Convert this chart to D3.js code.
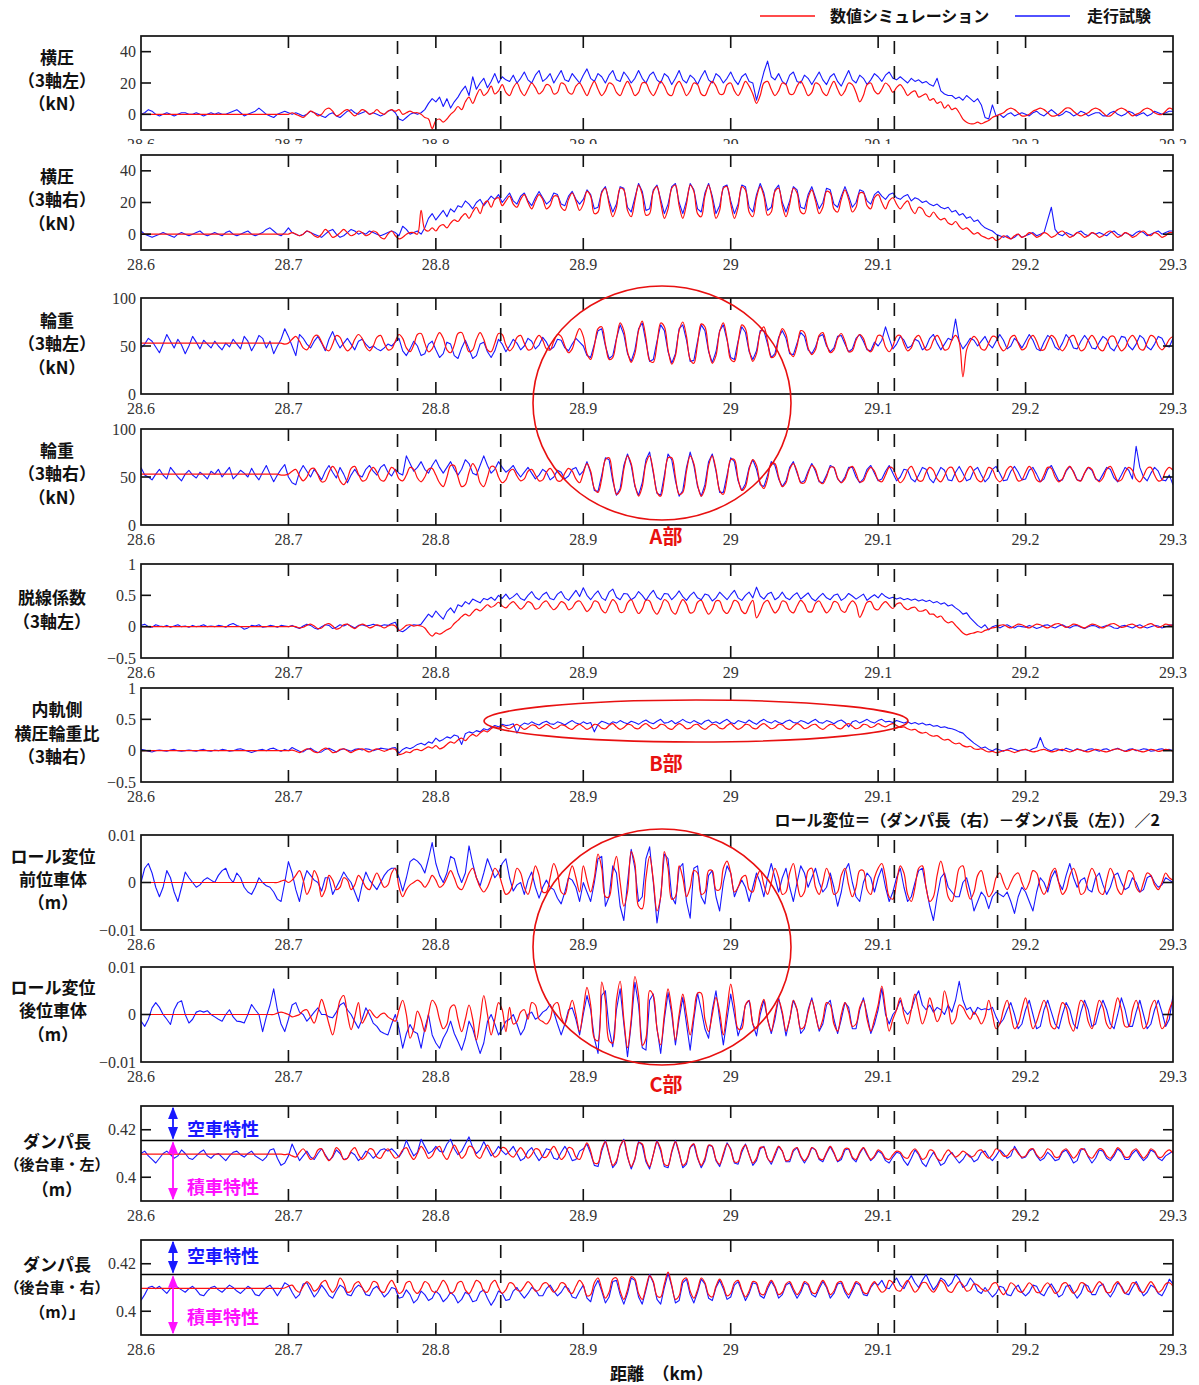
<!DOCTYPE html>
<html>
<head>
<meta charset="utf-8">
<script src="https://cdn.jsdelivr.net/npm/d3@7"></script>
<style>
  body { margin: 0; background: #fff; }
  svg { display: block; }
</style>
</head>
<body>
<svg id="chart" width="1199" height="1385"></svg>
<script>
// ---- distance axis (km) ----
const startKm = 28.6;
const stepKm = 0.0025;            // one sample every 2.5 m
const xTickValues = [28.6, 28.7, 28.8, 28.9, 29.0, 29.1, 29.2, 29.3];
const xTickLabels = ["28.6", "28.7", "28.8", "28.9", "29", "29.1", "29.2", "29.3"];
const sectionKm = [28.774, 28.844, 29.111, 29.181];
const seriesNames = ["数値シミュレーション", "走行試験"];

// ---- 横圧 3軸左 (kN) ----
const lfLeftSim = [
0,0,0,0,0,0,0,0,0,0,0,0,0,0,0,0,0,0,0,0,
0,0,0,0,0,0,0,0,0,0,0,0,0,0,0,0,0,0,0,0,
0,1,0,-1,-2,0,2,1,-1,0,3,4,2,-1,0,2,3,1,-1,1,
3,2,0,1,3,1,0,2,3,2,3,0,1,2,1,1,0,-2,-3,-9,
-4,-3,-5,-3,0,2,5,3,8,11,7,12,16,12,14,18,13,15,19,14,
12,17,20,15,12,16,20,17,13,15,19,18,13,14,20,19,14,13,18,20,
16,12,17,21,16,12,15,20,19,14,12,17,21,17,12,14,20,20,15,12,
16,21,18,13,12,18,21,17,12,15,20,19,13,12,17,21,18,13,13,19,
20,15,12,16,21,18,13,7,12,20,21,16,12,15,20,19,13,13,18,21,
17,12,14,20,19,14,12,17,21,16,12,15,20,19,14,8,12,19,20,15,
13,16,20,18,14,17,19,16,12,14,15,11,12,13,9,10,7,8,4,6,
3,4,1,-3,-5,-6,-6,-5,-6,-5,-4,-2,-1,0,1,3,4,3,1,-1,
-1,0,2,3,4,3,1,-1,-1,0,2,4,4,2,0,-1,0,1,3,4,
3,1,-1,-1,1,3,4,3,1,-1,0,1,3,4,3,1,0,0,2,4,
3];
const lfLeftTest = [
0,1,3,2,0,-1,0,1,0,-1,0,1,1,0,0,1,0,-1,0,1,
0,1,0,0,1,2,3,1,-1,0,1,2,4,2,0,-1,-2,0,1,2,
1,0,1,0,-1,0,2,1,0,-1,-2,0,1,-1,-2,0,2,3,1,0,
1,2,0,1,0,-1,0,2,3,1,-3,-4,-2,0,1,0,1,3,7,10,
8,11,5,10,4,8,11,15,18,12,24,16,20,23,17,21,26,20,24,22,
21,25,20,23,27,22,20,25,28,21,23,26,20,24,28,22,21,26,23,20,
25,29,23,21,26,24,20,25,28,22,21,27,24,20,23,28,23,20,25,27,
22,20,26,24,19,23,28,22,20,25,23,19,24,28,22,20,26,24,20,23,
27,22,19,24,26,21,20,9,18,27,34,24,22,26,21,19,25,27,21,20,
25,23,19,23,27,22,19,24,26,21,18,23,28,22,20,25,23,19,22,26,
24,21,25,27,23,22,24,22,20,23,21,22,20,21,19,18,23,15,13,12,
12,10,11,9,12,10,8,10,6,-2,-3,6,-1,0,-2,0,1,-1,0,1,
0,-1,1,2,0,-1,1,3,1,-1,0,2,1,-1,0,2,1,-1,0,1,
1,-1,-1,1,2,0,-1,0,2,1,-1,0,1,-1,0,2,1,0,1,2,
2];

// ---- 横圧 3軸右 (kN) ----
const lfRightSim = [
0,0,0,0,0,0,0,0,0,0,0,0,0,0,0,0,0,0,0,0,
0,0,0,0,0,0,0,0,0,0,0,0,0,0,0,0,0,0,0,0,
0,1,0,-1,0,2,1,-1,-2,0,3,1,-2,-1,1,3,1,-1,0,2,
1,-1,0,2,1,-2,-3,0,2,-1,-3,-2,0,1,1,0,15,3,2,4,
2,5,6,4,7,9,8,11,13,10,14,17,13,19,21,17,22,23,18,21,
24,19,17,22,25,20,16,21,25,22,16,18,24,24,17,15,22,26,21,15,
19,27,24,13,14,26,29,19,11,17,29,28,15,11,21,31,25,12,13,27,
30,20,10,16,29,31,18,10,19,31,27,13,11,24,31,22,10,15,29,30,
19,10,17,30,28,14,11,23,30,24,12,14,27,29,18,11,19,29,26,14,
13,23,28,21,13,17,27,26,16,14,22,28,22,14,17,26,26,18,16,23,
25,20,16,21,23,19,16,19,21,16,13,17,16,12,11,14,11,9,10,7,
6,8,5,3,4,2,0,1,-1,-2,-3,-2,-4,-3,-1,-2,-3,-1,0,-2,
-1,1,0,-2,-1,1,0,-2,-1,1,2,0,-2,-1,1,0,-2,-1,1,0,
-2,-1,1,2,0,-2,-1,1,0,-2,-1,1,2,0,-1,1,0,-2,-1,1,
1];
const lfRightTest = [
2,0,-1,-2,-1,0,1,0,-1,-2,0,1,0,-1,0,1,2,0,-1,0,
1,0,-1,1,2,0,-1,0,1,2,0,-1,0,1,3,4,2,0,-1,1,
4,1,0,-1,0,2,1,0,-1,-2,0,2,3,0,-2,-1,1,3,2,0,
1,0,2,1,0,-1,0,1,2,1,-1,5,3,0,1,2,0,4,10,13,
9,12,15,11,16,14,18,17,21,19,16,20,22,18,21,24,22,25,20,23,
26,21,19,24,26,21,18,23,27,23,19,21,26,25,19,18,24,27,22,19,
22,28,25,16,17,27,30,21,14,19,30,29,17,14,23,32,27,15,16,28,
31,22,13,19,30,32,20,13,21,32,28,16,14,26,32,24,13,18,30,31,
21,13,19,31,30,17,14,25,32,26,15,17,28,31,20,14,21,30,28,17,
16,25,30,23,16,20,29,28,19,17,24,30,24,17,20,28,27,21,19,25,
27,24,22,25,26,23,22,24,25,21,23,22,20,21,19,18,19,17,16,17,
14,15,12,13,10,11,8,9,6,4,3,2,0,-1,-2,-1,-3,-2,0,-2,
-1,0,1,-1,0,1,9,17,3,0,-1,1,0,-1,1,2,0,-1,1,0,
1,0,-1,1,2,0,-1,1,0,-1,1,2,1,-1,0,1,2,0,1,2,
2];

// ---- 輪重 3軸左 (kN) ----
const wlLeftSim = [
53,53,53,53,53,53,53,53,53,53,53,53,53,53,53,53,53,53,53,53,
53,53,53,53,53,53,53,53,53,53,53,53,53,53,53,53,53,53,53,52,
53,57,60,55,48,46,52,60,61,54,47,45,52,61,59,50,45,48,57,62,
58,49,45,50,59,61,53,46,47,55,62,58,48,44,51,62,63,53,44,47,
57,64,58,46,43,51,63,64,54,44,46,57,64,57,46,44,53,63,62,51,
45,49,59,61,53,46,47,56,61,56,47,46,55,62,60,50,43,47,60,68,
60,42,36,50,68,70,52,36,38,57,74,66,44,33,42,66,76,58,35,33,
52,74,70,46,31,40,66,75,60,36,32,52,73,70,46,32,40,65,74,58,
36,34,53,72,68,46,34,42,64,70,55,38,40,57,68,62,44,39,50,66,
64,48,41,46,61,64,52,43,46,58,63,55,44,45,56,62,58,47,44,51,
61,60,49,44,50,60,61,52,45,48,58,61,54,46,47,56,61,55,46,47,
56,61,54,18,46,55,60,56,47,46,53,60,59,50,45,49,59,61,53,46,
48,57,61,55,46,46,54,61,58,49,45,50,59,61,53,45,47,56,61,56,
47,45,52,60,60,51,45,48,57,61,56,47,46,54,61,59,50,46,50,57,
60];
const wlLeftTest = [
48,52,58,55,49,43,52,62,55,48,57,51,42,50,60,54,47,56,52,48,
55,50,46,53,49,57,52,47,60,55,45,52,61,58,48,55,42,50,57,68,
60,50,40,62,58,52,48,55,60,53,45,57,65,55,48,53,58,52,46,55,
57,52,48,50,47,45,48,52,50,54,58,45,40,47,55,50,40,42,52,55,
46,38,42,54,52,40,37,48,56,47,37,40,52,54,44,38,45,57,52,44,
50,57,53,46,50,58,55,47,51,59,54,46,49,57,56,48,45,52,58,54,
50,40,38,52,66,68,50,37,40,58,72,62,42,34,46,68,74,54,34,36,
55,72,66,44,32,42,68,72,56,34,35,55,72,66,44,33,44,66,72,56,
38,36,55,70,64,44,36,45,66,66,52,38,42,59,66,58,42,41,53,64,
60,46,42,49,60,62,50,44,48,60,61,52,44,47,58,62,55,46,45,54,
50,56,70,58,47,52,60,56,48,50,57,55,46,49,58,62,53,46,52,58,
56,78,55,47,52,58,56,50,55,60,52,48,55,62,56,47,50,58,54,48,
55,62,56,47,45,54,61,58,49,46,53,62,57,48,47,55,61,56,48,47,
54,60,57,48,45,52,60,59,50,46,52,61,58,49,46,52,60,58,50,49,
58];

// ---- 輪重 3軸右 (kN) ----
const wlRightSim = [
53,53,53,53,53,53,53,53,53,53,53,53,53,53,53,53,53,53,53,53,
53,53,53,53,53,53,53,53,53,53,53,53,53,53,53,53,53,53,52,52,
53,56,58,51,46,50,58,59,52,45,46,55,61,56,46,42,48,59,61,53,
46,47,55,60,55,47,46,53,60,57,48,46,52,60,58,49,45,50,58,59,
52,44,40,50,62,62,50,40,42,55,64,58,44,40,50,61,60,50,44,47,
56,58,51,46,48,56,58,52,46,47,55,59,54,46,46,54,59,56,48,44,
54,64,56,38,34,48,68,70,50,32,36,58,72,64,42,30,40,64,72,56,
34,30,48,70,70,50,32,34,56,72,64,42,30,38,62,72,58,36,32,48,
68,68,48,36,40,58,68,62,44,38,48,64,64,50,40,44,58,64,56,44,
44,54,62,58,46,43,50,60,60,49,44,48,58,61,54,45,46,55,60,56,
47,45,52,60,59,50,44,48,57,61,54,46,46,55,60,57,48,45,51,59,
60,52,45,47,56,61,55,47,45,52,60,58,49,45,49,58,61,54,46,47,
55,61,56,47,45,52,60,59,50,45,48,57,61,55,47,46,54,60,58,49,
45,49,58,61,54,46,47,55,60,57,48,45,51,59,60,52,46,47,56,60,
57];
const wlRightTest = [
60,52,50,47,53,58,52,48,60,55,50,46,53,57,52,49,55,52,48,56,
53,58,50,55,60,48,52,57,54,50,59,52,47,55,62,53,45,52,58,63,
50,44,42,55,62,56,50,58,53,47,56,62,55,49,60,53,44,52,58,52,
50,58,62,56,52,60,63,55,51,58,54,52,72,64,56,60,66,58,54,62,
68,60,54,60,66,58,52,58,68,64,54,52,62,72,62,54,58,66,60,55,
58,62,55,50,55,60,54,48,52,58,55,47,50,57,55,48,51,58,60,52,
56,66,54,36,35,52,70,68,46,31,38,62,74,62,40,31,44,68,76,54,
33,31,52,74,68,46,30,36,60,76,62,40,30,42,66,74,56,34,34,52,
70,66,46,36,43,60,68,58,42,40,52,66,62,48,40,46,60,66,54,44,
46,56,64,56,45,44,52,62,60,48,44,50,60,60,50,44,48,58,62,54,
46,48,56,62,54,46,50,58,57,48,45,52,60,58,48,44,52,60,57,47,
46,55,61,54,46,48,57,60,52,45,49,58,61,54,46,47,56,61,55,47,
48,57,60,53,45,48,58,62,54,46,47,56,61,56,47,46,54,60,57,48,
46,53,60,58,49,45,52,60,57,48,82,60,50,46,54,60,56,47,46,52,
42];

// ---- 脱線係数 3軸左 ----
const qpLeftSim = [
0,0,0,0,0,0,0,0,0,0,0,0,0,0,0,0,0,0,0,0,
0,0,0,0,0,0,0,0,0,0,0,0,0,0,0,0,0,0,0,0,
0,0.01,0,-0.02,-0.01,0.02,0.04,0.01,-0.03,-0.02,0.03,0.05,0.01,-0.04,-0.02,0.03,0.04,0,-0.03,0.01,
0.04,0.02,-0.02,0,0.03,0.01,-0.02,0.01,0.03,0.01,-0.06,-0.03,0.02,0.03,0.01,0.02,0.01,-0.02,-0.1,-0.15,
-0.1,-0.12,-0.09,-0.05,-0.02,0.05,0.1,0.16,0.2,0.17,0.23,0.28,0.25,0.3,0.35,0.31,0.34,0.39,0.33,0.3,
0.36,0.4,0.34,0.28,0.33,0.4,0.37,0.28,0.3,0.38,0.41,0.33,0.27,0.32,0.4,0.37,0.27,0.3,0.39,0.41,
0.33,0.24,0.3,0.41,0.39,0.27,0.22,0.33,0.43,0.37,0.23,0.24,0.38,0.43,0.31,0.21,0.28,0.42,0.41,0.27,
0.2,0.3,0.43,0.39,0.25,0.2,0.33,0.43,0.36,0.22,0.24,0.39,0.42,0.3,0.2,0.27,0.41,0.41,0.26,0.21,
0.3,0.42,0.39,0.25,0.21,0.33,0.42,0.14,0.24,0.38,0.42,0.31,0.22,0.28,0.41,0.39,0.26,0.22,0.33,0.42,
0.36,0.24,0.24,0.37,0.41,0.31,0.22,0.28,0.4,0.38,0.26,0.23,0.34,0.41,0.35,0.15,0.26,0.39,0.4,0.29,
0.27,0.35,0.4,0.34,0.29,0.36,0.38,0.31,0.27,0.3,0.31,0.25,0.25,0.27,0.2,0.2,0.15,0.17,0.1,0.06,
0.08,0.02,-0.04,-0.1,-0.13,-0.11,-0.1,-0.08,-0.09,-0.06,-0.04,-0.02,-0.01,0.02,0.03,0,-0.02,0.01,0.04,0.03,
0,-0.02,0.01,0.04,0.03,0,-0.02,0.01,0.04,0.05,0.02,-0.01,0.01,0.04,0.03,0,-0.02,0.01,0.04,0.03,
0,-0.02,0.01,0.04,0.05,0.02,-0.01,0,0.03,0.04,0.01,-0.02,0,0.03,0.05,0.02,-0.01,0.01,0.04,0.03,
0.02];
const qpLeftTest = [
0.02,0.04,0,-0.01,0.03,0.01,0,0.02,-0.01,0.01,0.03,0,0.01,-0.01,0.02,0,0.01,0.03,0,0.01,
0,0.02,0.01,-0.01,0.03,0.05,0.02,0,-0.04,-0.02,0.02,0.01,0.03,-0.01,0,0.02,0.01,-0.01,0.02,0.01,
0,0.02,-0.01,-0.03,0.01,0.04,0.02,-0.02,-0.04,0,0.03,0.02,-0.03,-0.01,0.03,0.01,0.04,0.01,-0.02,0.02,
0.03,0.01,0.02,0.04,0.02,0.01,0.03,0.02,0.05,0.07,-0.06,-0.08,-0.04,0.01,0.03,0.02,0.04,0.12,0.2,0.15,
0.25,0.18,0.12,0.24,0.3,0.22,0.35,0.32,0.4,0.36,0.44,0.41,0.38,0.45,0.43,0.47,0.42,0.5,0.45,0.52,
0.44,0.48,0.53,0.45,0.42,0.5,0.56,0.47,0.43,0.51,0.55,0.45,0.43,0.52,0.56,0.46,0.42,0.5,0.58,0.48,
0.62,0.5,0.43,0.51,0.57,0.46,0.42,0.55,0.6,0.47,0.43,0.53,0.52,0.43,0.47,0.56,0.5,0.42,0.51,0.58,
0.47,0.43,0.53,0.52,0.43,0.49,0.57,0.48,0.42,0.5,0.55,0.46,0.43,0.52,0.5,0.41,0.46,0.55,0.49,0.43,
0.51,0.58,0.46,0.42,0.5,0.55,0.46,0.63,0.49,0.44,0.52,0.55,0.43,0.47,0.55,0.46,0.43,0.5,0.54,0.44,
0.49,0.54,0.45,0.41,0.48,0.53,0.46,0.43,0.5,0.52,0.42,0.46,0.53,0.49,0.44,0.48,0.52,0.42,0.47,0.51,
0.46,0.53,0.48,0.45,0.47,0.44,0.46,0.43,0.45,0.42,0.44,0.41,0.43,0.4,0.42,0.38,0.4,0.36,0.38,0.33,
0.35,0.3,0.26,0.2,0.22,0.14,0.08,0.02,-0.02,0.03,-0.05,0,0.02,-0.02,0.01,0.03,0,-0.02,0.01,0,
-0.01,0.02,0,-0.03,-0.01,0.02,0.03,0,-0.02,0.01,0.03,0,-0.02,0.01,0.02,-0.01,-0.03,0,0.02,0.01,
-0.02,0,0.02,0.01,-0.02,-0.03,0.01,0.02,0,-0.02,0.01,0.03,0,-0.02,0,0.02,0.01,-0.02,0,0.02,
0.03];

// ---- 内軌側横圧輪重比 3軸右 ----
const innerRatioSim = [
0,0,0,0,0,0,0,0,0,0,0,0,0,0,0,0,0,0,0,0,
0,0,0,0,0,0,0,0,0,0,0,0,0,0,0,0,0,0,0,0,
0,0.01,-0.01,-0.03,0,0.03,0.02,-0.02,-0.03,0.01,0.04,0.02,-0.03,-0.02,0.02,0.03,0,-0.03,0,0.02,
0.03,0,-0.02,0.01,0.03,0.01,-0.01,0.01,0.03,0.02,-0.06,-0.05,-0.02,-0.03,0.01,0.02,0,0.03,0.06,0.04,
0.08,0.03,0.05,0.1,0.14,0.12,0.17,0.2,0.16,0.22,0.26,0.23,0.28,0.32,0.3,0.35,0.38,0.36,0.4,0.37,
0.35,0.39,0.42,0.38,0.34,0.37,0.41,0.4,0.35,0.38,0.42,0.39,0.35,0.37,0.41,0.4,0.36,0.34,0.39,0.42,
0.38,0.34,0.37,0.42,0.41,0.36,0.35,0.4,0.43,0.38,0.34,0.37,0.42,0.41,0.36,0.35,0.4,0.43,0.39,0.35,
0.37,0.42,0.41,0.36,0.34,0.39,0.43,0.4,0.35,0.36,0.41,0.42,0.37,0.34,0.38,0.42,0.41,0.36,0.35,0.4,
0.43,0.38,0.34,0.37,0.42,0.41,0.36,0.35,0.4,0.43,0.39,0.35,0.37,0.42,0.41,0.36,0.34,0.39,0.43,0.4,
0.35,0.37,0.41,0.42,0.37,0.34,0.38,0.42,0.41,0.36,0.35,0.4,0.43,0.39,0.35,0.37,0.42,0.41,0.37,0.39,
0.43,0.4,0.38,0.41,0.43,0.4,0.37,0.38,0.35,0.33,0.34,0.3,0.28,0.29,0.25,0.23,0.24,0.2,0.17,0.18,
0.14,0.11,0.12,0.08,0.06,0.07,0.03,0.02,0.03,0,-0.02,-0.01,-0.03,-0.02,0,0.01,-0.01,-0.03,-0.01,0.01,
0.02,0,-0.02,-0.01,0.01,0.02,0,-0.02,-0.01,0.01,0.02,0,-0.02,0,0.02,0.01,-0.01,-0.02,0,0.02,
0.01,-0.01,-0.02,0,0.02,0.03,0.01,-0.01,0,0.02,0.01,-0.01,-0.02,0,0.02,0.01,-0.01,0,0.02,0.01,
-0.01];
const innerRatioTest = [
0.02,0.01,-0.01,-0.02,0,0.01,0,-0.01,0.01,0.02,0,-0.01,0,0.01,0,-0.01,0.01,0.02,0,-0.01,
0.01,0,0.02,0.01,-0.01,0,0.02,0.03,0.01,-0.01,-0.03,-0.01,0.01,0.02,0,0.03,0.04,0.01,-0.01,0.02,
0,0.05,0.02,-0.01,-0.02,0.02,0.04,0,-0.03,-0.02,0.02,0.04,0.01,-0.02,0.01,0.03,0.01,-0.01,0.02,0.03,
0.01,0.03,0.02,0,0.02,0.04,0.03,0.02,0.04,0.05,-0.04,0.02,0.05,0.03,0.06,0.1,0.12,0.09,0.14,0.12,
0.2,0.15,0.18,0.22,0.2,0.25,0.23,0.1,0.27,0.3,0.28,0.32,0.3,0.35,0.33,0.37,0.4,0.38,0.42,0.4,
0.41,0.43,0.28,0.4,0.44,0.42,0.46,0.43,0.41,0.45,0.47,0.43,0.42,0.46,0.44,0.41,0.45,0.48,0.44,0.42,
0.46,0.43,0.45,0.3,0.42,0.47,0.45,0.42,0.46,0.44,0.48,0.45,0.43,0.47,0.45,0.42,0.46,0.49,0.45,0.43,
0.47,0.5,0.44,0.45,0.48,0.43,0.46,0.5,0.46,0.44,0.48,0.45,0.42,0.47,0.49,0.44,0.46,0.43,0.47,0.5,
0.45,0.43,0.48,0.46,0.44,0.49,0.45,0.42,0.47,0.5,0.46,0.44,0.48,0.45,0.43,0.47,0.49,0.45,0.44,0.48,
0.46,0.43,0.47,0.5,0.45,0.44,0.48,0.46,0.43,0.47,0.49,0.45,0.38,0.46,0.48,0.44,0.47,0.5,0.46,0.44,
0.48,0.5,0.46,0.47,0.45,0.48,0.46,0.44,0.46,0.43,0.45,0.42,0.44,0.41,0.42,0.39,0.4,0.37,0.38,0.36,
0.35,0.33,0.3,0.28,0.22,0.17,0.12,0.08,0.04,0.06,0.02,0,0.03,0.01,-0.01,0.02,0.04,0.02,0,0.01,
0.02,0,0.03,0.05,0.21,0.06,0.02,0,0.03,0.02,0,0.04,0.02,0,0.03,0.01,-0.01,0.02,0.03,0.01,
-0.01,0.02,0.03,0,0.02,0.04,0.01,-0.01,0.02,0.03,0,0.01,0.03,0.02,-0.01,0,0.02,0.03,0.01,0.02,
0];

// ---- ロール変位 前位車体 (mm) ----
const rollFrontSim = [
0,0,0,0,0,0,0,0,0,0,0,0,0,0,0,0,0,0,0,0,
0,0,0,0,0,0,0,0,0,0,0,0,0,0,0,0,0,0,0.3,0.5,
0,0.5,1.5,2.5,0.5,-2.5,-1,2.5,1,-3,-1.5,1.5,0.5,-1.5,-1,1,0.5,-1.5,-0.5,1.5,
0.5,-1,-1.5,0.5,2,0.5,-1,-0.5,2,3,-1,-3,-1.5,-0.5,0,0.5,0,-1,0,1.5,
0.5,-1,-0.5,1,2.5,1,-1,-1.5,0,2,3,1,-1,-2,-1,1,3,2,-0.5,-2.5,
-2,0,3,2,-1,-2.5,0,3.5,1.5,-2,-2,1,4,2,-2,-2.5,1,3.5,1,-2,
3.5,0.5,-2,1,6,3,-3,-3,2,5.5,0,-5,-2,6.5,4,-5,-5.5,1,5.5,0.5,
-6,-3,6.5,3,-3.5,-3,3.5,1,-3,-1,2.5,2,-2.5,-2,2.5,2.5,-1.5,-1.5,3,4.5,
2,-2,-1,1,1.5,-1.5,-2,1,2.5,-0.5,-2.5,0,3,1,-2.5,-2,2,4,0,-3,
-2,2.5,3,-1,-2.5,0,3,1,-2.5,-2,1.5,3,-0.5,-3,-1,2.5,2.5,-1.5,-2.5,1,
3,4,1,-3,-3.5,0,3.5,2,-2.5,-4,-1,3,3.5,-1,-4,-3,1.5,4.5,1.5,-3,
-4,-1,3,3.5,-1,-3.5,-2,1.5,2.5,-0.5,-3,-2,1,2,0,-1.5,0,1.5,2,0,
-1.5,0,2.5,2,-1,-2.5,-1,2,3,0,-2.5,-1.5,1.5,3,1,-2.5,-2,1,3,1.5,
-2,-2.5,0.5,3,1.5,-1.5,-2.5,0,2.5,2,-1,-2,0,2,1.5,-0.5,-1.5,0,2,1,
0.5];
const rollFrontTest = [
0,3,4,2,-1,-3,-1,2.5,1,-2,-4,-1,2.2,1,0,-1,-0.5,0.5,1,0.5,
0,1.5,2.5,3,1,0,2,1,-1,-2,-2.5,-1,1,0,-0.7,-1,-2,-3.5,-4,0,
4.4,2,-1.5,-4,0,2.5,1.5,0.5,0,-1.8,1,1,-2.5,-1,0.5,2.2,1,0,-2,-4,
-0.5,2.2,0.5,-0.5,-1.5,0,1.5,2.5,3,3,1,-1.8,1,4.4,5,4.5,3.6,2,5,8.4,
4,1.5,0,2,5.5,5,2,0,2,7.7,4,1,-0.7,2,5,3,1,2,4,5,
1,-1.8,-0.5,0,-2.5,0.5,2.2,-1,-3.3,-1,0.5,-1,-1.5,-3.3,-4.5,-2,1,0.5,-1,-4,
0,-2,-4,0,5,5.5,-5,-3,3.5,2,-5,-8,0,7,3,-4,-3,5,7.5,0,
-8.5,-3,6,5,-3,-4.5,3,4,-4,-7.5,3,3.5,-3,-4.5,1.5,2.5,-3,-6,0,3.5,
2,-3,-1,0.5,-1,-4,-1,2,0,-3,1,4,1,-2,1,3,-1,-4,0,3.5,
2,-1,1,3,0,-2,-1,2,-1,-5,-2,2.5,4,0,-3,-4,0,2,1,-2,
1,3,-1,-4,-2,1,3,-1,-4,-3,0,2.5,3,-1,-5,-8,-3,1,2,-1,
-2,-3,-3,0,1,-2,-6,-4,-2,-3,-5.5,-3,-2,-2.5,-3,-2,-4,-6.5,-3,-1,
-2,-4,-6,-2,1,0,-2,1,2.5,0,-1.5,1.5,4,1,-1,0.5,1,-1.5,-2,1,
2,-0.5,-2.5,-1,1.5,2,0,-1.5,-1,1,0,-2,-1.5,1,1.5,0,-1,-0.5,1,0.5,
0];

// ---- ロール変位 後位車体 (mm) ----
const rollRearSim = [
0,0,0,0,0,0,0,0,0,0,0,0,0,0,0,0,0,0,0,0,
0,0,0,0,0,0,0,0,0,0,0,0,0,0,0,0,0,0.3,0.5,0.3,
0,-0.5,-0.3,0,0.8,1,-0.5,-1.8,0.5,3.2,1,-2,-4.3,-1,3,4,0,-3.2,-0.5,2.5,
-1.8,-0.5,1,0,-0.7,0,0.3,-0.5,-1,-1.4,1,3,0,-5,-3,0.7,-1,-3.6,0,3,
2,-1,-3,-2,1.5,2,-1,-3.6,-1,2,-1,-5.4,-1,4,0,-4.3,-1,2.5,1,-3.6,
1.5,-2,-1.5,0.5,1,-1,2.5,2,-1,-1.5,-2,-1,2,2.5,-0.5,-2,0.5,3,0,-3.6,
1,5.7,2,-5,-5.5,6.8,3,-5.5,-6,3,7,-1,-7,-1,8,4,-6.5,-5,5,4,
-3,-6.4,0,5.4,1,-5.4,0,4.3,0,-4.3,0,4.5,4.5,-1,-3.6,0,3.6,0.5,-4.3,1,
6.4,2,-3,-3,2,2.9,-2,-3,1,3.2,-1,-3.5,0,3,0.5,-3.5,-1,3,1,-3,
-2.5,0.5,3,0,-3,-1,2.5,2,-2,-3.5,0,2.5,0.5,-2.5,-2,1.5,3,-1,-3.5,-1,
2,6,1,-3.5,-1,1,3.5,0,-2,1,4.3,1,-2,0,3.5,1,-1.5,0,5,2,
-2,-1,2,1.5,0,-1,0.5,-0.5,-2,-0.5,3,0,-3,-2,1,3,0,-3,-2,1,
3.5,0,-3,-1.5,1,3,1,-2.5,-3,0,2.5,1.5,-2,-3.5,0,3,2,-1.5,-3,0,
3,1.5,-2,-3,0.5,3.5,1,-2.5,-2.5,1,3,0.5,-3,-2,1.5,3,0,-3,-2,1,
3];
const rollRearTest = [
-1.4,-2.5,-1,1.4,2.5,1.5,0,-1,-2.1,1,2.5,2.9,0,-1.8,-1,0.5,0.8,0.5,0.8,0,
-0.5,-1,-1.4,0,1,-0.5,-1.4,-1.5,-1.8,0,2.1,1,0,-3.6,-0.5,2,5.4,1,-2,-3.6,
-1,2,2.5,0.5,0,-1.4,-0.5,0.5,1.4,0,0,-0.5,-0.7,0.5,2,2.5,1,0,-1.5,-2.9,
-1,1.4,0,-1.8,-2.5,-3.6,-4,-4.3,-2,0,-3,-7.1,-4,-2.1,-3.6,-4,-7.1,-3,0,-4.3,
-6,-7.1,-5,-3.6,-1.4,-4,-5.7,-7.5,-5,-1.4,-3,-5.7,-8.2,-6,-1.5,0,-2,-4.3,-3,-1.4,
-1,0,-2,-4.3,-3,0,0.5,-1,-0.5,0.5,1,2.1,0.5,-2,-4.3,-2,1,1.4,-1,-4.3,
0,4,1,-5,-8.2,4,5,-3,-6.8,1,5.4,-2,-8.9,-2,6.8,2,-7,-7.5,3,4.3,
-3,-8.2,-1,4.6,0,-6.4,-1,3.6,-2,-7.5,-1,4.5,1,-3,-5,1,5,-1,-6.4,-1,
4.3,0,-4.5,-2,2,3,-2,-4.5,0,3,-1,-4,-1,3.5,0,-4.5,-1,3,1,-4,
-3,1,3.5,0,-3.5,-2,2,3,-1,-4,-1,2.5,1.5,-3,-3,1,3.5,0,-4,-2,
1,5.5,0,-2,0,1,3,1,0,1,3.5,5,2,1,2,0.5,1.5,1,0,2,
0.5,3,7,3,1,1.5,0,1.5,1,1.2,1,1.5,-0.5,-2,-1,1,2.5,0,-3,-2,
1,3,0,-3,-2.5,1,3,0.5,-2,-3,0,2.5,1,-2,-3,0.5,3,1,-2.5,-2,
1,3,1,-2,-3,0,3.5,1,-2.5,-2.5,0.5,3,0,-3,-2,1,3,0.5,-2.5,-1,
4];

// ---- ダンパ長 後台車・左 (mm) ----
const damperLeftSim = [
409.7,409.7,409.7,409.7,409.7,409.7,409.7,409.7,409.7,409.7,409.7,409.7,409.7,409.7,409.7,409.7,409.7,409.7,409.7,409.7,
409.7,409.7,409.7,409.7,409.7,409.7,409.7,409.7,409.7,409.7,409.7,409.7,409.7,409.7,409.7,409.7,409.7,409.7,409.7,409.5,
409.7,409,408.5,410.5,412,410,407.5,408.5,411.5,412,409,407,409,412.5,411,407.5,408,411,412.5,409.5,
407.5,409,412,411.5,408.5,408,410.5,412,410,408,409,411.5,412.5,409.5,407.5,410,413,411,408,409,
412,413,409.5,407.5,410.5,413.5,411,408,409.5,413,412.5,409,408,411,413.5,411,408.5,409.5,412.5,412,
409.5,408.5,410.5,412.5,410.5,408,409.5,412,411.5,408.5,408.5,411,413,410.5,407.5,409,412.5,412,408.5,407.5,
411,414.5,411,406,406,412,415,410,405,407,413,415.5,409,404.5,408,414.5,414,407.5,404.5,409.5,
415,412,405.5,405,411,415,410.5,405,406.5,412.5,414,408.5,405,408,413.5,413,407.5,405.5,410,414,
411.5,406.5,406.5,411.5,413.5,409.5,406,408,412.5,412.5,408,406.5,410,413,411,407,407.5,411.5,412.5,409,
407,409,412.5,411.5,408,407.5,410.5,413,410.5,407,408.5,412,412,408.5,407.5,410.5,412.5,410,407.5,409,
411.5,410.5,408,407.5,409.5,411,410.5,408.5,408,410.5,412,410,407.5,408.5,411.5,411,408,407,409.5,411.5,
410,408.5,409.5,411,410,408.5,409,411,411.5,409.5,408,409.5,412,411,409,409,411,412,410,408.5,
409,411.5,412,409.5,408,409.5,412,411,408.5,408.5,411,412,410,408,409.5,412,411.5,409,408,410,
412,411.5,409,408,410,412.5,411,408.5,408.5,411,412,410,408,409.5,412,411,408.5,408.5,410.5,411.5,
410];
const damperLeftTest = [
410,411,409,407.5,406,408,410,411,409.5,408,409,411.5,410,408,407.5,409,410.5,411.5,409,408,
409.5,410,408.5,407,409,410.5,411,409.5,408.5,410,411,409,408,407,408.5,411.5,412,408,405,406,
409,414,410.5,407,409,411,408.5,407.5,410,412,409.5,407,408.5,411.5,410,407.5,408,410.5,409.5,407,
408.5,411,410,408,409.5,411.5,412,411,412,410.5,408.5,411,415.5,412,409,410.5,416,413,410,411,
413,411,410.5,414,416,412,409.5,411,414,417,412.5,410,411.5,415,412,409,410.5,413,411,409.5,
411,413,410,407,408,411,412.5,409.5,407,409,412,411.5,408,407.5,410.5,413,410.5,407,407.5,411,
412,414,410,405,404.5,411,415.5,409.5,404,406,413,416,408.5,403.5,407.5,415,413.5,406.5,403.5,409.5,
415.5,411,404.5,404,410.5,415.5,410,404,405.5,412.5,414,408,404,407,413.5,413,407,404.5,409,414.5,
412,406,405.5,410.5,414,409.5,405,407,412,413,408,405.5,409,413,411,406.5,406.5,411,412.5,408.5,
406,408.5,412.5,411.5,407.5,406.5,410,413,410,406.5,407.5,411.5,412,408,406.5,410,412.5,409.5,407,408.5,
411,410,407,406,408.5,410.5,410,407,405,408,411.5,409.5,406,404.5,408,410.5,408,405,406,409,
410.5,408,406,407.5,410,409,406.5,407.5,410.5,411,408.5,407,409,411.5,410,408,409,413,410.5,408,
408.5,411,412,409,407,408,410.5,409,407,407.5,410.5,411.5,409,406,407,411.5,412,408.5,406,408,
411.5,411,408,407,409,412,410.5,407.5,407.5,410,411.5,409,407,408.5,411.5,410.5,408,407,409,410,
411];

// ---- ダンパ長 後台車・右 (mm) ----
const damperRightSim = [
409.6,409.6,409.6,409.6,409.6,409.6,409.6,409.6,409.6,409.6,409.6,409.6,409.6,409.6,409.6,409.6,409.6,409.6,409.6,409.6,
409.6,409.6,409.6,409.6,409.6,409.6,409.6,409.6,409.6,409.6,409.6,409.6,409.6,409.6,409.6,409.6,409.6,409.6,409.6,409.8,
410.5,411,409,408,410.5,412.5,411,408.5,409.5,412,413,410,408,410,414,412,408,408.5,411.5,412.5,
410,408,409.5,412.5,412,408.5,408,411,413,410.5,407.5,408.5,412,412.5,409,407.5,409.5,412.5,411.5,408.5,
408,410.5,413,411,407.5,408.5,412,412.5,409,407.5,410,413,412,408.5,408,411.5,413,410,407.5,409,
412,411.5,409,408.5,410.5,412.5,411,408.5,409,411.5,412,410,408,409.5,412,411.5,408.5,407.5,410.5,413,
411,406.5,407,412,414,409.5,405.5,408,413.5,414,408.5,405,409,414.5,413.5,407.5,405,410,415,412.5,
406.5,406,411.5,416.5,411,405,406.5,413,414,408.5,405.5,409,414,412,407,406,410.5,413.5,410.5,406.5,
407.5,412,413,409,406,408.5,412.5,412,407.5,407,410.5,413,410.5,407,408,411.5,412.5,409.5,407,409,
412.5,411.5,408,407.5,410.5,413,410.5,407,408.5,412,412.5,409,407,409.5,412.5,411.5,408,407.5,410.5,412.5,
410,408,409,413,412,409,408.5,411,413,410.5,408,409.5,412,412,409.5,408,410,413,411.5,408.5,
408,410.5,412.5,411,408.5,409,411.5,411,409.5,408.5,409,411.5,412,409,407,409,412,411,408.5,408,
410,412,410.5,408,408,410.5,412,410,407.5,408.5,411.5,412,409.5,407.5,409,412,411.5,408.5,408,410.5,
412.5,411,408,408,411,412.5,410,407.5,409,412,411.5,408.5,408,410.5,412.5,410.5,408,409,411.5,412,
410.5];
const damperRightTest = [
404.5,407,410,410.5,409.5,410.5,409,407.5,409.5,411,410,409,408,409.5,410.5,409,407,406.5,408.5,410,
410.5,409,408,409.5,411,410,408.5,407.5,409,410.5,409.5,407,406.5,408.5,410,411,409,406.5,409,412,
411,408,405.5,407,411.5,412,409,406,408,411,409,406.5,405.5,408.5,411,410,407,406.5,409.5,411,
410,407,406.5,409.5,410.5,408.5,406,407.5,410,409.5,405.5,406,409,407,403.5,405,408.5,407,404.5,405.5,
408.5,407,404,405.5,408,406.5,403.5,405,408,407,404,404.5,408,409,405.5,402.5,405,408.5,407.5,404.5,
405,408.5,410,407.5,405.5,407.5,410,409,406.5,406.5,409.5,411,408.5,406.5,408,410.5,409.5,406,405.5,408.5,
411,405.5,404,410,413,408.5,403.5,406,412.5,413,407,403,407.5,414,413,406,403,409,415.5,412,
405,403,410,416,410.5,403.5,404.5,412,413.5,407,403.5,408,413.5,411.5,405.5,404.5,410,413,409.5,405,
406,411,412.5,408.5,404.5,407.5,412,411.5,406.5,405.5,409.5,412.5,410,405.5,407,411,412,408.5,405.5,408,
412,411,407,406,409.5,412.5,410,405.5,407.5,411.5,412,408,405.5,408.5,412,411,407,406.5,410,412,
411,413,410,409.5,412,414,411,409.5,412.5,415,412,410,413,415.5,412,409,411,414,413,410.5,
412,415.5,413.5,410,411,414,412,408.5,407.5,410,408,406,407.5,410.5,410,407,406.5,409.5,411,408,
406.5,408,411,410.5,407.5,406.5,409.5,411.5,409,406,407,410.5,411,408,405.5,407.5,411.5,410.5,407,407,
410.5,411.5,408,406,408.5,412,410.5,407.5,407,410,412.5,409.5,406.5,408,411,410,407.5,406.5,409.5,413.5,
411.5];

// ---- panel layout ----
const MM = 0.001;
const panels = [
  { title: ["横圧", "（3軸左）", "（kN）"], titleX: 57, titleY: [58, 81, 104],
    top: 36, bottom: 130, domain: [-10, 50], unit: 1,
    ticks: [0, 20, 40], labels: ["0", "20", "40"], sim: lfLeftSim, test: lfLeftTest, clipLabels: 144 },
  { title: ["横圧", "（3軸右）", "（kN）"], titleX: 57, titleY: [177, 200, 224],
    top: 155, bottom: 250, domain: [-10, 50], unit: 1,
    ticks: [0, 20, 40], labels: ["0", "20", "40"], sim: lfRightSim, test: lfRightTest },
  { title: ["輪重", "（3軸左）", "（kN）"], titleX: 57, titleY: [321, 344, 368],
    top: 298, bottom: 394, domain: [0, 100], unit: 1,
    ticks: [0, 50, 100], labels: ["0", "50", "100"], sim: wlLeftSim, test: wlLeftTest },
  { title: ["輪重", "（3軸右）", "（kN）"], titleX: 57, titleY: [451, 474, 498],
    top: 429, bottom: 525, domain: [0, 100], unit: 1,
    ticks: [0, 50, 100], labels: ["0", "50", "100"], sim: wlRightSim, test: wlRightTest },
  { title: ["脱線係数", "（3軸左）"], titleX: 52, titleY: [598, 622],
    top: 564, bottom: 658, domain: [-0.5, 1], unit: 1,
    ticks: [-0.5, 0, 0.5, 1], labels: ["\u22120.5", "0", "0.5", "1"], sim: qpLeftSim, test: qpLeftTest },
  { title: ["内軌側", "横圧輪重比", "（3軸右）"], titleX: 57, titleY: [710, 734, 757],
    top: 688, bottom: 782, domain: [-0.5, 1], unit: 1,
    ticks: [-0.5, 0, 0.5, 1], labels: ["\u22120.5", "0", "0.5", "1"], sim: innerRatioSim, test: innerRatioTest },
  { title: ["ロール変位", "前位車体", "（m）"], titleX: 53, titleY: [857, 880, 903],
    top: 835, bottom: 930, domain: [-0.01, 0.01], unit: MM,
    ticks: [-0.01, 0, 0.01], labels: ["\u22120.01", "0", "0.01"], sim: rollFrontSim, test: rollFrontTest },
  { title: ["ロール変位", "後位車体", "（m）"], titleX: 53, titleY: [988, 1011, 1035],
    top: 967, bottom: 1062, domain: [-0.01, 0.01], unit: MM,
    ticks: [-0.01, 0, 0.01], labels: ["\u22120.01", "0", "0.01"], sim: rollRearSim, test: rollRearTest },
  { title: ["ダンパ長", "（後台車・左）", "（m）"], titleX: 57, titleY: [1142, 1165, 1190], titleSize: [17, 15, 17],
    top: 1106, bottom: 1201, domain: [0.39, 0.43], unit: MM,
    ticks: [0.40, 0.42], labels: ["0.4", "0.42"], sim: damperLeftSim, test: damperLeftTest,
    threshold: 0.4155, arrowY: [1130, 1188] },
  { title: ["ダンパ長", "（後台車・右）", "（m）」"], titleX: 57, titleY: [1265, 1288, 1312], titleSize: [17, 15, 16],
    top: 1240, bottom: 1335, domain: [0.39, 0.43], unit: MM,
    ticks: [0.40, 0.42], labels: ["0.4", "0.42"], sim: damperRightSim, test: damperRightTest,
    threshold: 0.4155, arrowY: [1257, 1318] }
];

const RED = "#ff1010", BLUE = "#1818ff", MAGENTA = "#ff10ff", ANNOT_RED = "#e81010";
const SERIF = "'Liberation Serif', 'Times New Roman', serif";
const GOTHIC = "'Noto Sans CJK JP', 'Noto Sans', sans-serif";

const svg = d3.select("#chart");
const defs = svg.append("defs");
const x = d3.scaleLinear().domain([28.6, 29.3]).range([141, 1173]);
const plotLeft = x.range()[0], plotRight = x.range()[1];

// arrow heads for the damper panels
[["headBlue", BLUE], ["headMagenta", MAGENTA]].forEach(([id, c]) => {
  defs.append("marker").attr("id", id).attr("viewBox", "0 0 10 10")
    .attr("refX", 9).attr("refY", 5).attr("markerWidth", 7).attr("markerHeight", 7)
    .attr("orient", "auto-start-reverse")
    .append("path").attr("d", "M0,1 L10,5 L0,9 z").attr("fill", c);
});

panels.forEach((p, k) => {
  const y = d3.scaleLinear().domain(p.domain).range([p.bottom, p.top]);
  const g = svg.append("g");
  const clipId = "plot-clip-" + k;
  defs.append("clipPath").attr("id", clipId).append("rect")
    .attr("x", plotLeft).attr("y", p.top).attr("width", plotRight - plotLeft).attr("height", p.bottom - p.top);

  // threshold line (damper panels)
  if (p.threshold !== undefined) {
    g.append("line").attr("x1", plotLeft).attr("x2", plotRight)
      .attr("y1", y(p.threshold)).attr("y2", y(p.threshold))
      .attr("stroke", "#000").attr("stroke-width", 1.5);
  }

  // series
  const kmAt = i => startKm + i * stepKm;
  const testLine = d3.line().x((d, i) => x(kmAt(i))).y(d => y(d * p.unit)).curve(d3.curveLinear);
  const simLine = d3.line().x((d, i) => x(kmAt(i))).y(d => y(d * p.unit)).curve(d3.curveCatmullRom.alpha(0.5));
  const lines = g.append("g").attr("clip-path", `url(#${clipId})`);
  lines.append("path").attr("d", testLine(p.test)).attr("fill", "none")
    .attr("stroke", BLUE).attr("stroke-width", 1.1).attr("stroke-linejoin", "round");
  lines.append("path").attr("d", simLine(p.sim)).attr("fill", "none")
    .attr("stroke", RED).attr("stroke-width", 1.2).attr("stroke-linejoin", "round");

  // section boundaries
  sectionKm.forEach(km => {
    g.append("line").attr("x1", x(km)).attr("x2", x(km))
      .attr("y1", p.top + 5).attr("y2", p.bottom)
      .attr("stroke", "#111").attr("stroke-width", 1.6).attr("stroke-dasharray", "13,12");
  });

  // x ticks (inward, top and bottom)
  xTickValues.slice(1, -1).forEach(v => {
    g.append("line").attr("x1", x(v)).attr("x2", x(v)).attr("y1", p.top).attr("y2", p.top + 12)
      .attr("stroke", "#111").attr("stroke-width", 1.6);
    g.append("line").attr("x1", x(v)).attr("x2", x(v)).attr("y1", p.bottom).attr("y2", p.bottom - 12)
      .attr("stroke", "#111").attr("stroke-width", 1.6);
  });
  // y ticks (inward, left and right)
  p.ticks.forEach(v => {
    const yy = y(v);
    if (Math.abs(yy - p.top) < 2 || Math.abs(yy - p.bottom) < 2) return;
    g.append("line").attr("x1", plotLeft).attr("x2", plotLeft + 10).attr("y1", yy).attr("y2", yy)
      .attr("stroke", "#111").attr("stroke-width", 1.6);
    g.append("line").attr("x1", plotRight - 10).attr("x2", plotRight).attr("y1", yy).attr("y2", yy)
      .attr("stroke", "#111").attr("stroke-width", 1.6);
  });

  // frame
  g.append("rect").attr("x", plotLeft).attr("y", p.top)
    .attr("width", plotRight - plotLeft).attr("height", p.bottom - p.top)
    .attr("fill", "none").attr("stroke", "#111").attr("stroke-width", 1.7);

  // y tick labels
  p.ticks.forEach((v, j) => {
    g.append("text").attr("x", 136).attr("y", y(v)).attr("dy", "0.35em")
      .attr("text-anchor", "end").attr("font-family", SERIF).attr("font-size", 16)
      .attr("fill", "#333").text(p.labels[j]);
  });

  // x tick labels
  const xl = g.append("g");
  if (p.clipLabels) {
    const lid = "label-clip-" + k;
    defs.append("clipPath").attr("id", lid).append("rect")
      .attr("x", 0).attr("y", p.bottom).attr("width", 1199).attr("height", p.clipLabels - p.bottom);
    xl.attr("clip-path", `url(#${lid})`);
  }
  xTickValues.forEach((v, j) => {
    xl.append("text").attr("x", x(v)).attr("y", p.bottom + 20)
      .attr("text-anchor", "middle").attr("font-family", SERIF).attr("font-size", 16)
      .attr("fill", "#333").text(xTickLabels[j]);
  });

  // panel title
  p.title.forEach((t, j) => {
    g.append("text").attr("x", p.titleX).attr("y", p.titleY[j]).attr("dy", "0.35em")
      .attr("text-anchor", "middle").attr("font-family", GOTHIC).attr("font-weight", 700)
      .attr("font-size", p.titleSize ? p.titleSize[j] : 17).attr("fill", "#111").text(t);
  });

  // empty / loaded characteristic arrows
  if (p.threshold !== undefined) {
    const ay = y(p.threshold);
    g.append("line").attr("x1", 173).attr("x2", 173).attr("y1", ay - 2).attr("y2", p.top + 2)
      .attr("stroke", BLUE).attr("stroke-width", 1.8)
      .attr("marker-start", "url(#headBlue)").attr("marker-end", "url(#headBlue)");
    g.append("line").attr("x1", 173).attr("x2", 173).attr("y1", ay + 2).attr("y2", p.bottom - 2)
      .attr("stroke", MAGENTA).attr("stroke-width", 1.8)
      .attr("marker-start", "url(#headMagenta)").attr("marker-end", "url(#headMagenta)");
    g.append("text").attr("x", 187).attr("y", p.arrowY[0]).attr("dy", "0.35em")
      .attr("font-family", GOTHIC).attr("font-weight", 700).attr("font-size", 18)
      .attr("fill", BLUE).text("空車特性");
    g.append("text").attr("x", 187).attr("y", p.arrowY[1]).attr("dy", "0.35em")
      .attr("font-family", GOTHIC).attr("font-weight", 700).attr("font-size", 18)
      .attr("fill", MAGENTA).text("積車特性");
  }
});

// legend
const legend = svg.append("g");
[[760, 830, RED, seriesNames[0]], [1015, 1087, BLUE, seriesNames[1]]].forEach(([lx, tx, c, name]) => {
  legend.append("line").attr("x1", lx).attr("x2", lx + 55).attr("y1", 16).attr("y2", 16)
    .attr("stroke", c).attr("stroke-width", 1.6);
  legend.append("text").attr("x", tx).attr("y", 16).attr("dy", "0.35em")
    .attr("font-family", GOTHIC).attr("font-weight", 700).attr("font-size", 16)
    .attr("fill", "#111").text(name);
});

// roll definition note
svg.append("text").attr("x", 1160).attr("y", 820).attr("dy", "0.35em").attr("text-anchor", "end")
  .attr("font-family", GOTHIC).attr("font-weight", 700).attr("font-size", 16).attr("fill", "#111")
  .text("ロール変位＝（ダンパ長（右）－ダンパ長（左））／2");

// distance axis title
svg.append("text").attr("x", 610).attr("y", 1374).attr("dy", "0.35em")
  .attr("font-family", GOTHIC).attr("font-weight", 700).attr("font-size", 17).attr("fill", "#111")
  .text("距離　（km）");

// highlighted regions
const marks = svg.append("g");
[[662, 403, 129, 117], [696, 721, 212, 21], [662, 947, 129, 118]].forEach(([cx, cy, rx, ry]) => {
  marks.append("ellipse").attr("cx", cx).attr("cy", cy).attr("rx", rx).attr("ry", ry)
    .attr("fill", "none").attr("stroke", ANNOT_RED).attr("stroke-width", 1.6);
});
[["A部", 537], ["B部", 764], ["C部", 1085]].forEach(([t, ty]) => {
  marks.append("text").attr("x", 666).attr("y", ty).attr("dy", "0.35em").attr("text-anchor", "middle")
    .attr("font-family", GOTHIC).attr("font-weight", 700).attr("font-size", 20)
    .attr("fill", ANNOT_RED).text(t);
});
</script>
</body>
</html>
